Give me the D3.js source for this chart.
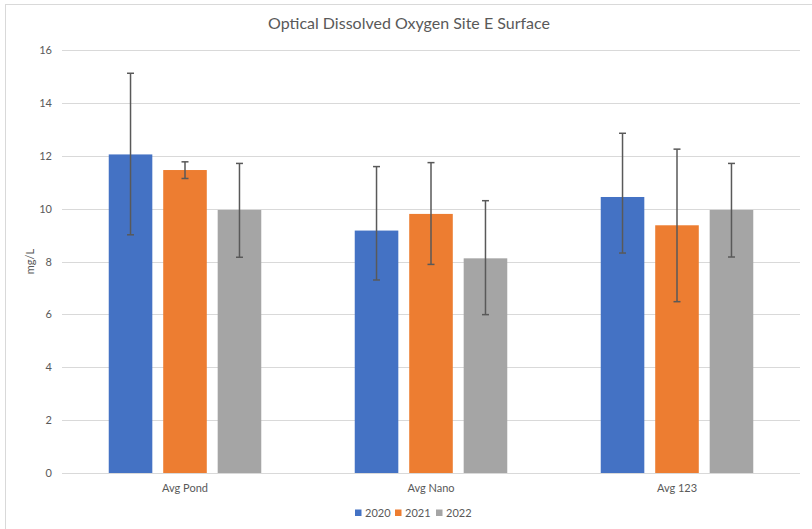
<!DOCTYPE html>
<html><head><meta charset="utf-8">
<script src="https://cdn.jsdelivr.net/npm/d3@7"></script>
<style>body{margin:0;background:#fff;}svg{display:block;font-family:Lato,"Open Sans",sans-serif;}</style>
</head><body><svg id="c" width="812" height="529"></svg>
<script>
const categories = ["Avg Pond", "Avg Nano", "Avg 123"];
const seriesNames = ["2020", "2021", "2022"];
const colors = ["#4472C4", "#ED7D31", "#A5A5A5"];
const values2020 = [12.05, 9.17, 10.44];
const values2021 = [11.46, 9.80, 9.37];
const values2022 = [9.95, 8.12, 9.95];
const errPlus2020 = [3.07, 2.42, 2.41];
const errMinus2020 = [3.04, 1.87, 2.12];
const errPlus2021 = [0.31, 1.94, 2.88];
const errMinus2021 = [0.32, 1.91, 2.89];
const errPlus2022 = [1.76, 2.18, 1.76];
const errMinus2022 = [1.79, 2.13, 1.78];
const yTicks = [0, 2, 4, 6, 8, 10, 12, 14, 16];

(function () {
const values = [values2020, values2021, values2022];
const errsP = [errPlus2020, errPlus2021, errPlus2022];
const errsM = [errMinus2020, errMinus2021, errMinus2022];

const svg = d3.select("#c");
const pL = 62, pR = 800, pT = 50, pB = 473;

// chart frame
svg.append("rect").attr("x", 5.5).attr("y", 4.5).attr("width", 820).attr("height", 540)
  .attr("fill", "none").attr("stroke", "#d9d9d9").attr("stroke-width", 1);

const y = d3.scaleLinear().domain([0, 16]).range([pB, pT]);
const x0 = d3.scaleBand().domain(categories).range([pL, pR]).paddingInner(0.38).paddingOuter(0.19);
const x1 = d3.scaleBand().domain(seriesNames).range([0, x0.bandwidth()]).paddingInner(0.2);

// gridlines
svg.append("g").selectAll("line").data(yTicks).join("line")
  .attr("x1", pL).attr("x2", pR)
  .attr("y1", d => Math.round(y(d)) + 0.5).attr("y2", d => Math.round(y(d)) + 0.5)
  .attr("stroke", "#d9d9d9").attr("stroke-width", 1);

// y tick labels via axis
const yAxis = svg.append("g").attr("transform", `translate(${pL},0)`)
  .call(d3.axisLeft(y).tickValues(yTicks).tickSize(0).tickPadding(10));
yAxis.select(".domain").remove();
yAxis.selectAll("text").attr("font-size", 11).attr("fill", "#595959").attr("font-family", "Lato, 'Open Sans', sans-serif");

// x labels via axis
const xAxis = svg.append("g").attr("transform", `translate(0,${pB})`)
  .call(d3.axisBottom(x0).tickSize(0).tickPadding(11));
xAxis.select(".domain").remove();
xAxis.selectAll("text").attr("font-size", 11).attr("fill", "#595959").attr("font-family", "Lato, 'Open Sans', sans-serif");

// bars
seriesNames.forEach((s, si) => {
  const g = svg.append("g");
  g.selectAll("rect").data(categories).join("rect")
    .attr("x", (c) => x0(c) + x1(s))
    .attr("y", (c, i) => y(values[si][i]))
    .attr("width", x1.bandwidth())
    .attr("height", (c, i) => y(0) - y(values[si][i]))
    .attr("fill", colors[si]);
});

// error bars
seriesNames.forEach((s, si) => {
  const g = svg.append("g").attr("stroke", "#595959").attr("stroke-width", 1.5);
  categories.forEach((c, i) => {
    const cx = x0(c) + x1(s) + x1.bandwidth() / 2;
    const v = values[si][i], hi = v + errsP[si][i], lo = v - errsM[si][i];
    g.append("line").attr("x1", cx).attr("x2", cx).attr("y1", y(hi)).attr("y2", y(lo));
    g.append("line").attr("x1", cx - 3.5).attr("x2", cx + 3.5).attr("y1", y(hi)).attr("y2", y(hi));
    g.append("line").attr("x1", cx - 3.5).attr("x2", cx + 3.5).attr("y1", y(lo)).attr("y2", y(lo));
  });
});

// title
svg.append("text").attr("x", 409).attr("y", 29).attr("text-anchor", "middle")
  .attr("font-size", 16).attr("fill", "#595959").text("Optical Dissolved Oxygen Site E Surface");

// y label
svg.append("text").attr("transform", `translate(34,${(pT + pB) / 2}) rotate(-90)`)
  .attr("text-anchor", "middle").attr("font-size", 11).attr("fill", "#595959").text("mg/L");

// legend
const legX = [355, 395, 436];
const leg = svg.append("g");
seriesNames.forEach((s, si) => {
  leg.append("rect").attr("x", legX[si]).attr("y", 509.5).attr("width", 6.5).attr("height", 6.5).attr("fill", colors[si]);
  leg.append("text").attr("x", legX[si] + 10).attr("y", 516.5).attr("font-size", 11).attr("fill", "#595959").text(s);
});
})();
</script></body></html>
